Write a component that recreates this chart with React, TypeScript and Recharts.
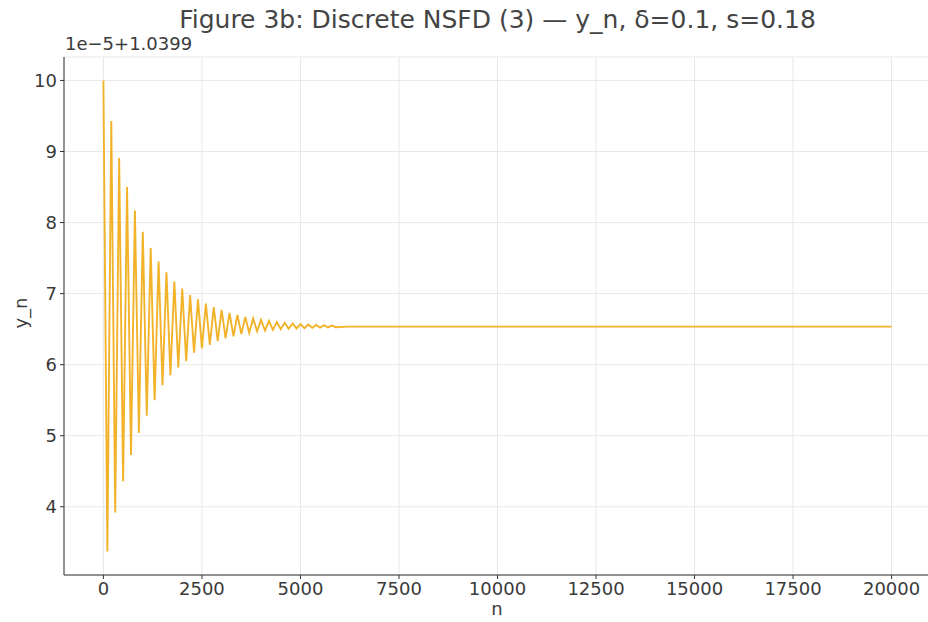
import { LineChart, Line, XAxis, YAxis, CartesianGrid } from 'recharts';

// n positions of the turning points (peaks / troughs), then the flat tail
const nValues = [
  0, 100, 200, 300, 400, 500, 600, 700, 800, 900,
  1000, 1100, 1200, 1300, 1400, 1500, 1600, 1700, 1800, 1900,
  2000, 2100, 2200, 2300, 2400, 2500, 2600, 2700, 2800, 2900,
  3000, 3100, 3200, 3300, 3400, 3500, 3600, 3700, 3800, 3900,
  4000, 4100, 4200, 4300, 4400, 4500, 4600, 4700, 4800, 4900,
  5000, 5100, 5200, 5300, 5400, 5500, 5600, 5700, 5800, 5900,
  6200, 20000,
];

// y_n, shown as (y_n - 1.0399) / 1e-5
const yValues = [
  10.0, 3.37, 9.43, 3.92, 8.91, 4.36, 8.5, 4.73, 8.17, 5.04,
  7.87, 5.28, 7.64, 5.5, 7.45, 5.71, 7.3, 5.85, 7.17, 5.96,
  7.07, 6.05, 6.98, 6.17, 6.92, 6.23, 6.86, 6.28, 6.81, 6.33,
  6.77, 6.37, 6.73, 6.4, 6.7, 6.43, 6.67, 6.45, 6.65, 6.47,
  6.63, 6.48, 6.615, 6.49, 6.6, 6.5, 6.59, 6.505, 6.58, 6.51,
  6.57, 6.515, 6.565, 6.52, 6.56, 6.522, 6.555, 6.525, 6.55, 6.527,
  6.535, 6.535,
];

const xTicks = [0, 2500, 5000, 7500, 10000, 12500, 15000, 17500, 20000];
const yTicks = [4, 5, 6, 7, 8, 9, 10];

const data = nValues.map((n, i) => ({ n, y: yValues[i] }));

const font = 'DejaVu Sans, sans-serif';
const tickStyle = { fontFamily: font, fontSize: 18, fill: '#3a3a3a' };

export default function App() {
  return (
    <div
      style={{
        position: 'absolute',
        left: 0,
        top: 0,
        width: 928,
        height: 622,
        overflow: 'hidden',
        background: '#fff',
        fontFamily: font,
        color: '#3a3a3a',
      }}
    >
      <div
        style={{
          position: 'absolute',
          left: 64,
          width: 867,
          top: 5,
          textAlign: 'center',
          fontSize: 25,
          whiteSpace: 'nowrap',
          color: '#444',
        }}
      >
        Figure 3b: Discrete NSFD (3) — y_n, δ=0.1, s=0.18
      </div>
      <div style={{ position: 'absolute', left: 65, top: 33, fontSize: 18, whiteSpace: 'nowrap' }}>
        1e−5+1.0399
      </div>
      <div
        style={{
          position: 'absolute',
          left: 20,
          top: 313,
          fontSize: 18,
          transform: 'translate(-50%, -50%) rotate(-90deg)',
          whiteSpace: 'nowrap',
        }}
      >
        y_n
      </div>
      <div
        style={{
          position: 'absolute',
          left: 497,
          top: 608,
          fontSize: 18,
          transform: 'translate(-50%, -50%)',
        }}
      >
        n
      </div>
      <LineChart width={940} height={622} data={data} margin={{ top: 57, right: 9, bottom: 0, left: 0 }}>
        <CartesianGrid stroke="#e8e8e8" strokeWidth={1} />
        <XAxis
          dataKey="n"
          type="number"
          domain={[-1000, 21000]}
          ticks={xTicks}
          height={47}
          tick={tickStyle}
          tickSize={4}
          tickMargin={3}
          stroke="#333"
          interval={0}
        />
        <YAxis
          type="number"
          domain={[3.04, 10.33]}
          ticks={yTicks}
          width={64}
          tick={tickStyle}
          tickSize={4}
          tickMargin={3}
          stroke="#333"
          allowDataOverflow
          interval={0}
        />
        <Line
          type="linear"
          dataKey="y"
          stroke="#f2b32a"
          strokeWidth={1.9}
          dot={false}
          isAnimationActive={false}
        />
      </LineChart>
    </div>
  );
}
